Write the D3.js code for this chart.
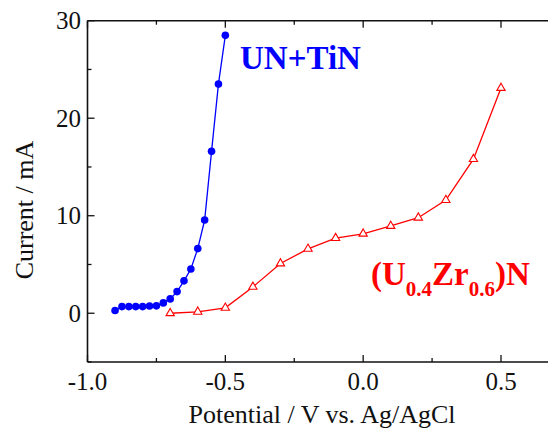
<!DOCTYPE html>
<html>
<head>
<meta charset="utf-8">
<script src="https://cdn.jsdelivr.net/npm/d3@7"></script>
<style>
  html, body { margin: 0; padding: 0; background: #fff; }
  svg { display: block; }
</style>
</head>
<body>
<svg id="chart" width="548" height="430" font-family="'Liberation Serif', 'Times New Roman', Times, serif"></svg>
<script>
// Anodic polarisation: potential (V vs. Ag/AgCl) and current (mA)
const unTinPotential = [-0.9, -0.875, -0.85, -0.825, -0.8, -0.775, -0.75, -0.725, -0.7,
  -0.675, -0.65, -0.625, -0.6, -0.575, -0.55, -0.525, -0.5];
const unTinCurrent = [0.28, 0.68, 0.68, 0.68, 0.68, 0.75, 0.76, 1.06, 1.47,
  2.22, 3.32, 4.54, 6.63, 9.56, 16.6, 23.5, 28.5];

const uzrPotential = [-0.7, -0.6, -0.5, -0.4, -0.3, -0.2, -0.1, 0.0, 0.1, 0.2, 0.3, 0.4, 0.5];
const uzrCurrent = [0.0, 0.15, 0.55, 2.7, 5.1, 6.6, 7.7, 8.15, 8.95, 9.8, 11.6, 15.8, 23.1];

const xMajorTicks = [-1.0, -0.5, 0.0, 0.5];
const xTickLabels = ["-1.0", "-0.5", "0.0", "0.5"];
const xMinorTicks = [-0.75, -0.25, 0.25];
const yMajorTicks = [0, 10, 20, 30];
const yTickLabels = ["0", "10", "20", "30"];
const yMinorTicks = [-5, 5, 15, 25];

const W = 548, H = 430;
const plotLeft = 87.5, plotTop = 20.7, plotBottom = 362;

const svg = d3.select("#chart");

const x = d3.scaleLinear().domain([-1.0, 0.5]).range([plotLeft, 501]);
const y = d3.scaleLinear().domain([-5, 30]).range([plotBottom, plotTop]);
const xRight = x.invert(W + 2);

// frame: left, top, bottom (the right side runs past the edge)
const frame = svg.append("g").attr("stroke", "#111").attr("stroke-width", 1.6).attr("fill", "none");
frame.append("line").attr("x1", plotLeft).attr("x2", plotLeft).attr("y1", plotTop).attr("y2", plotBottom);
frame.append("line").attr("x1", plotLeft).attr("x2", x(xRight)).attr("y1", y(30)).attr("y2", y(30));
frame.append("line").attr("x1", plotLeft).attr("x2", x(xRight)).attr("y1", y(-5)).attr("y2", y(-5));

// inward ticks
const ticks = svg.append("g").attr("stroke", "#111").attr("stroke-width", 1.3);
function xTick(v, len) {
  ticks.append("line").attr("x1", x(v)).attr("x2", x(v)).attr("y1", y(-5)).attr("y2", y(-5) - len);
  ticks.append("line").attr("x1", x(v)).attr("x2", x(v)).attr("y1", y(30)).attr("y2", y(30) + len);
}
function yTick(v, len) {
  ticks.append("line").attr("x1", plotLeft).attr("x2", plotLeft + len).attr("y1", y(v)).attr("y2", y(v));
}
xMajorTicks.forEach(v => xTick(v, 7));
xMinorTicks.forEach(v => xTick(v, 4));
yMajorTicks.forEach(v => yTick(v, 7));
yMinorTicks.forEach(v => yTick(v, 4));

// tick labels
svg.append("g").selectAll("text").data(xMajorTicks).join("text")
  .attr("x", d => x(d)).attr("y", 390)
  .attr("text-anchor", "middle").attr("font-size", 25).attr("fill", "#111")
  .text((d, i) => xTickLabels[i]);

svg.append("g").selectAll("text").data(yMajorTicks).join("text")
  .attr("x", 81).attr("y", d => y(d)).attr("dy", "0.34em")
  .attr("text-anchor", "end").attr("font-size", 25).attr("fill", "#111")
  .text((d, i) => yTickLabels[i]);

// axis titles
svg.append("text").attr("x", 322).attr("y", 423)
  .attr("text-anchor", "middle").attr("font-size", 26).attr("fill", "#111")
  .text("Potential / V vs. Ag/AgCl");

svg.append("text").attr("transform", "translate(33,210) rotate(-90)")
  .attr("text-anchor", "middle").attr("font-size", 26).attr("fill", "#111")
  .text("Current / mA");

const line = d3.line().x(d => x(d[0])).y(d => y(d[1]));

// (U0.4Zr0.6)N series
const uzr = d3.zip(uzrPotential, uzrCurrent);
svg.append("path").datum(uzr).attr("d", line)
  .attr("fill", "none").attr("stroke", "#ff0000").attr("stroke-width", 1.3);
svg.append("g").selectAll("path").data(uzr).join("path")
  .attr("transform", d => `translate(${x(d[0])},${y(d[1])})`)
  .attr("d", d3.symbol(d3.symbolTriangle, 30))
  .attr("fill", "#fff").attr("stroke", "#ff0000").attr("stroke-width", 1.1);

// UN+TiN series
const untin = d3.zip(unTinPotential, unTinCurrent);
svg.append("path").datum(untin).attr("d", line)
  .attr("fill", "none").attr("stroke", "#0000ff").attr("stroke-width", 1.3);
svg.append("g").selectAll("circle").data(untin).join("circle")
  .attr("cx", d => x(d[0])).attr("cy", d => y(d[1])).attr("r", 3.8)
  .attr("fill", "#0000ff");

// series labels
svg.append("text").attr("x", 240).attr("y", 68.5)
  .attr("font-size", 33).attr("font-weight", "bold").attr("fill", "#0000ff")
  .text("UN+TiN");

const lbl = svg.append("text").attr("x", 371).attr("y", 285)
  .attr("font-size", 33).attr("font-weight", "bold").attr("fill", "#ff0000");
lbl.append("tspan").text("(U");
lbl.append("tspan").attr("font-size", 21).attr("dy", 11).text("0.4");
lbl.append("tspan").attr("dy", -11).text("Zr");
lbl.append("tspan").attr("font-size", 21).attr("dy", 11).text("0.6");
lbl.append("tspan").attr("dy", -11).text(")N");
</script>
</body>
</html>
